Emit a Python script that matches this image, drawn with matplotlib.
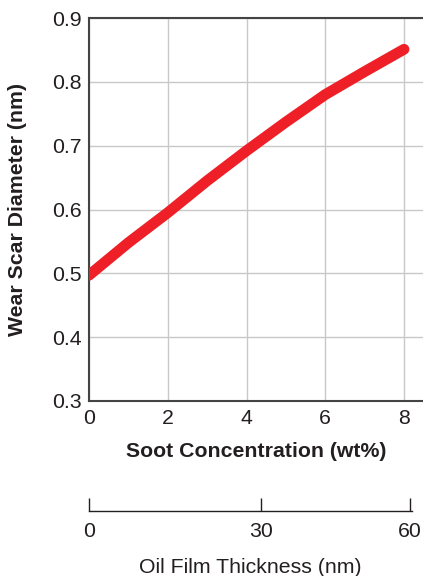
import matplotlib
matplotlib.use("Agg")
import matplotlib.pyplot as plt

soot = [0, 1, 2, 3, 4, 5, 6, 7, 8]
wear = [0.497, 0.548, 0.595, 0.645, 0.692, 0.737, 0.780, 0.816, 0.851]
x_ticks = [0, 2, 4, 6, 8]
y_ticks = [0.3, 0.4, 0.5, 0.6, 0.7, 0.8, 0.9]
film_tick_pos = [0, 32.15, 60]
film_tick_labels = ["0", "30", "60"]

plt.rcParams['font.family'] = ['Liberation Sans', 'DejaVu Sans']
FS = 15.3

fig = plt.figure(figsize=(4.23, 5.76), dpi=100)
W, H = 423, 576
ax = fig.add_axes([89 / W, 1 - 401 / H, 1 - 89 / W, (401 - 18) / H])
ax.plot(soot, wear, color='#ee1f26', lw=7.8, solid_capstyle='round', solid_joinstyle='round', zorder=3)
ax.set_xlim(0, (W - 89) / ((404 - 89) / 8))
ax.set_ylim(0.3, 0.9)
ax.set_xticks(x_ticks)
ax.set_xticklabels([str(v) for v in x_ticks])
ax.set_yticks(y_ticks)
ax.set_yticklabels([f"{v:.1f}" for v in y_ticks])
ax.grid(True, color='#c8c8c8', lw=1.0)
ax.set_axisbelow(True)
ax.tick_params(length=0, labelsize=FS, colors='#231f20', pad=5)
ax.tick_params(axis='x', pad=6)
for s in ['left', 'bottom', 'top']:
    ax.spines[s].set_color('#444444')
    ax.spines[s].set_linewidth(1.5)
ax.spines['right'].set_visible(False)
ax.set_xlabel("Soot Concentration (wt%)", fontsize=FS, fontweight='bold', color='#231f20', labelpad=10)
ax.set_ylabel("Wear Scar Diameter (nm)", fontsize=FS, fontweight='bold', color='#231f20', labelpad=18)

ax2 = fig.add_axes([89 / W, 1 - 511 / H, (412 - 89) / W, 0.0001])
ax2.set_xlim(0, 60 * (412 - 89) / (410 - 89))
ax2.set_ylim(0, 1)
for s in ['left', 'right', 'top']:
    ax2.spines[s].set_visible(False)
ax2.spines['bottom'].set_color('#231f20')
ax2.spines['bottom'].set_linewidth(1.0)
ax2.patch.set_visible(False)
ax2.set_yticks([])
ax2.set_xticks(film_tick_pos)
ax2.set_xticklabels(film_tick_labels)
ax2.tick_params(axis='x', direction='in', length=9.5, width=1.0, labelsize=FS, colors='#231f20', pad=8)
ax2.set_xlabel("Oil Film Thickness (nm)", fontsize=FS, color='#231f20', labelpad=12)

fig.savefig("out.png", dpi=100)
